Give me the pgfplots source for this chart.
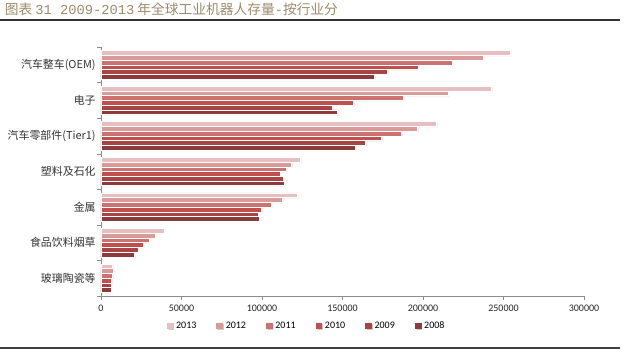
\documentclass[border=0pt]{standalone}
\usepackage{pgfplots}
\pgfplotsset{compat=1.18}
\usetikzlibrary{shadows}
\usepackage{fontspec}
\setmainfont{Carlito}
\newfontfamily\cjk{Noto Sans CJK SC}
\newfontfamily\monof{Liberation Mono}
\definecolor{c2013}{HTML}{E6BFC0}
\definecolor{c2012}{HTML}{D99A9A}
\definecolor{c2011}{HTML}{CC7372}
\definecolor{c2010}{HTML}{C0504D}
\definecolor{c2009}{HTML}{A84544}
\definecolor{c2008}{HTML}{8C3A3B}
\definecolor{titlec}{HTML}{9C8A6A}
\definecolor{axc}{HTML}{8C8C8C}
\begin{document}
\begin{tikzpicture}
\path[use as bounding box] (0,0) rectangle (468.75pt,-264pt);
\node[anchor=west,inner sep=0pt,text=titlec,font=\cjk\fontsize{10.3pt}{11pt}\selectfont] at (3.5pt,-6.9pt) {图表\ {\monof 31 2009-2013} 年全球工业机器人存量{\monof -}按行业分};
\draw[line width=1.2pt,color=black!80] (0,-15.2pt) -- (465pt,-15.2pt);
\draw[line width=1.2pt,color=black!75] (0,-261pt) -- (465pt,-261pt);
\begin{axis}[
  at={(75.75pt,-222pt)}, anchor=south west,
  scale only axis, width=362.25pt, height=186.75pt,
  xbar=0pt, bar width=0.133,
  y dir=reverse,
  xmin=0, xmax=300000,
  ymin=-0.5, ymax=6.5,
  xtick={0,50000,100000,150000,200000,250000,300000},
  xticklabels={0,50000,100000,150000,200000,250000,300000},
  scaled x ticks=false,
  xticklabel style={font=\fontsize{7.5pt}{8pt}\selectfont, text=black!85},
  ytick={0,1,2,3,4,5,6},
  yticklabels={汽车整车(OEM),电子,汽车零部件(Tier1),塑料及石化,金属,食品饮料烟草,玻璃陶瓷等},
  yticklabel style={font=\cjk\fontsize{8.2pt}{9pt}\selectfont, text=black!80, xshift=2.5pt},
  minor ytick={-0.5,0.5,1.5,2.5,3.5,4.5,5.5,6.5},
  major y tick style={draw=none},
  minor y tick style={draw=axc},
  x tick style={draw=axc},
  tick align=outside,
  major tick length=3pt, minor tick length=3pt,
  axis x line*=bottom, axis y line*=left,
  axis line style={draw=axc, line width=0.6pt},
  every axis plot/.append style={draw=white, line width=0.4pt,
    drop shadow={shadow xshift=0.7pt, shadow yshift=-0.7pt, fill=black!35, opacity=0.6}},
  legend style={at={(0.4265,-0.122)}, anchor=center, draw=none, fill=none,
    legend columns=6, font=\fontsize{7.5pt}{8pt}\selectfont,
    /tikz/every even column/.append style={column sep=13pt}},
  legend image code/.code={\fill[#1,draw=none] (0pt,-2.2pt) rectangle (5pt,2.8pt);},
  legend cell align=left,
  clip=false,
]
\addplot[fill=c2013] coordinates {(254000,0) (242700,1) (208500,2) (123800,3) (122000,4) (39100,5) (7300,6)};
\addplot[fill=c2012] coordinates {(237500,0) (215700,1) (196700,2) (118400,3) (112600,4) (33700,5) (7500,6)};
\addplot[fill=c2011] coordinates {(218000,0) (187800,1) (186500,2) (115100,3) (105800,4) (29800,5) (7300,6)};
\addplot[fill=c2010] coordinates {(197000,0) (156700,1) (174300,2) (111400,3) (99600,4) (26300,5) (6600,6)};
\addplot[fill=c2009] coordinates {(178000,0) (143700,1) (164200,2) (113200,3) (97700,4) (23200,5) (6200,6)};
\addplot[fill=c2008] coordinates {(170000,0) (146600,1) (158000,2) (114100,3) (98100,4) (20700,5) (6200,6)};
\legend{2013,2012,2011,2010,2009,2008}
\end{axis}
\end{tikzpicture}
\end{document}
